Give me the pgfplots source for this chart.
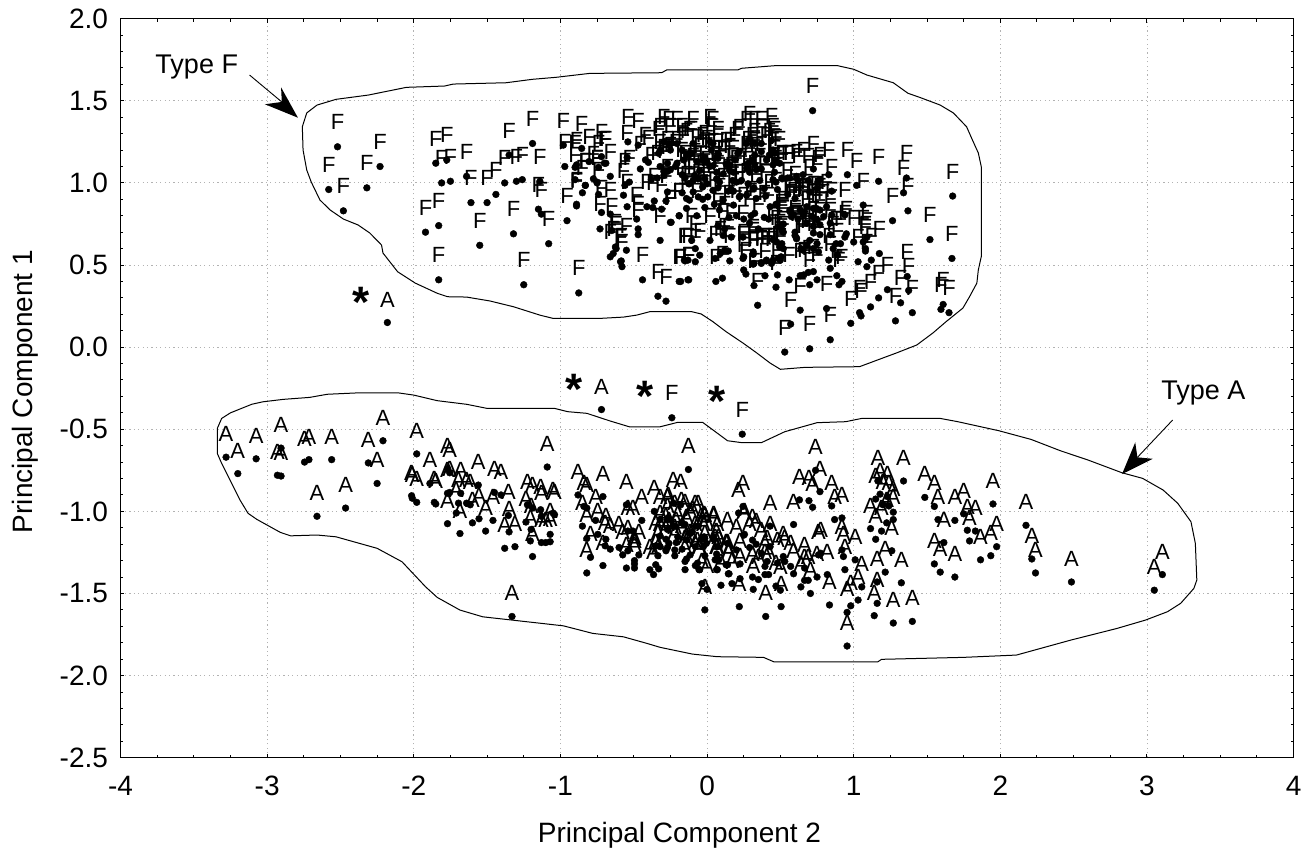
\documentclass[border=0pt]{standalone}
\usepackage{pgfplots}
\pgfplotsset{compat=1.18}
\usepackage{fontspec}
\setmainfont{Liberation Sans}
\newcommand{\tickf}{\fontsize{28}{30}\selectfont}
\newcommand{\typef}{\fontsize{27}{30}\selectfont}
\newcommand{\letf}{\fontsize{22}{24}\selectfont}
\newcommand{\starf}{\fontsize{44}{44}\selectfont\bfseries}
\begin{document}
\begin{tikzpicture}[x=1pt,y=1pt]
\path[use as bounding box] (0,0) rectangle (1315,854);
\begin{axis}[
  at={(120.5pt,96.3pt)},anchor=south west,
  scale only axis,width=1173.2pt,height=739pt,
  xmin=-4,xmax=4,ymin=-2.5,ymax=2,
  xtick={-4,-3,-2,-1,0,1,2,3,4},
  xticklabels={-4,-3,-2,-1,0,1,2,3,4},
  ytick={-2.5,-2,-1.5,-1,-0.5,0,0.5,1,1.5,2},
  yticklabels={-2.5,-2.0,-1.5,-1.0,-0.5,0.0,0.5,1.0,1.5,2.0},
  minor x tick num=3,minor y tick num=4,
  tick align=inside,tick pos=both,
  major tick length=4pt,minor tick length=3pt,
  every tick/.style={black,line width=1pt},
  axis line style={line width=1.5pt,black},
  grid=major,
  major grid style={gray!60,line width=0.9pt,dash pattern=on 1.2pt off 3.2pt},
  tick label style={font=\tickf},
  xticklabel style={yshift=-15pt},
  yticklabel style={xshift=-9pt},
  xlabel={Principal Component 2},ylabel={Principal Component 1},
  every axis x label/.style={at={(axis description cs:0.4765,0)},yshift=-78pt,anchor=center,font=\tickf},
  every axis y label/.style={at={(axis description cs:0,0.4955)},xshift=-95pt,anchor=center,rotate=90,font=\tickf},
  clip=false,
]
% Type F contour
\addplot[black,line width=1pt,sharp plot] coordinates {
(-2.76,1.342)(-2.73,1.426)(-2.66,1.474)(-2.53,1.509)(-2.31,1.535)(-2.05,1.582)(-1.79,1.590)(-1.73,1.602)(-1.37,1.610)(-1.19,1.631)(-1.03,1.643)(-.80,1.667)(-.31,1.671)(-.275,1.688)(.21,1.688)(.235,1.698)(.465,1.714)(.89,1.714)(1.00,1.692)(1.09,1.657)(1.27,1.610)(1.37,1.546)(1.45,1.521)(1.59,1.474)(1.68,1.426)(1.77,1.342)(1.81,1.261)(1.85,1.182)(1.87,1.099)(1.87,.551)(1.85,.470)(1.84,.390)(1.79,.307)(1.745,.238)(1.63,.155)(1.54,.086)(1.43,.013)(1.29,-.036)(1.16,-.079)(1.04,-.119)(.67,-.123)(.50,-.135)(.43,-.097)(.34,-.036)(.245,.025)(.13,.094)(.04,.155)(-.04,.202)(-.105,.216)(-.39,.216)(-.48,.195)(-.57,.183)(-.73,.175)(-1.05,.175)(-1.14,.195)(-1.32,.246)(-1.48,.281)(-1.64,.305)(-1.77,.307)(-1.84,.328)(-1.99,.390)(-2.11,.459)(-2.21,.573)(-2.22,.622)(-2.30,.695)(-2.38,.744)(-2.48,.780)(-2.57,.835)(-2.64,.896)(-2.70,1.007)(-2.73,1.079)(-2.755,1.200)(-2.76,1.342)};
% Type A contour
\addplot[black,line width=1pt,sharp plot] coordinates {
(-3.34,-.495)(-3.31,-.434)(-3.25,-.400)(-3.105,-.348)(-3.03,-.333)(-2.89,-.318)(-2.71,-.306)(-2.59,-.287)(-2.37,-.278)(-2.11,-.278)(-2.00,-.292)(-1.84,-.326)(-1.64,-.348)(-1.50,-.373)(-1.04,-.373)(-.95,-.393)(-.82,-.403)(-.66,-.450)(-.53,-.485)(-.32,-.485)(-.20,-.458)(-.03,-.458)(.14,-.570)(.24,-.582)(.37,-.582)(.53,-.515)(.75,-.460)(.945,-.454)(1.055,-.434)(1.59,-.434)(1.71,-.454)(1.99,-.509)(2.21,-.562)(2.41,-.631)(2.60,-.688)(2.83,-.765)(2.97,-.799)(3.11,-.870)(3.21,-.951)(3.30,-1.063)(3.33,-1.195)(3.34,-1.418)(3.32,-1.469)(3.23,-1.560)(3.14,-1.611)(2.99,-1.662)(2.795,-1.713)(2.48,-1.784)(2.11,-1.875)(1.75,-1.889)(1.19,-1.901)(1.165,-1.916)(.455,-1.916)(.385,-1.889)(.07,-1.885)(-.10,-1.869)(-.32,-1.828)(-.41,-1.804)(-.57,-1.764)(-.78,-1.743)(-.98,-1.697)(-1.23,-1.672)(-1.53,-1.642)(-1.685,-1.601)(-1.84,-1.524)(-1.92,-1.459)(-2.08,-1.307)(-2.25,-1.225)(-2.53,-1.155)(-2.66,-1.144)(-2.84,-1.149)(-2.91,-1.128)(-3.07,-1.049)(-3.13,-1.012)(-3.185,-.931)(-3.31,-.708)(-3.34,-.647)(-3.34,-.495)};
% F points
\addplot[only marks,mark=*,mark size=3.4pt,mark options={fill=black,draw=black},
  nodes near coords={F},
  every node near coord/.style={anchor=base,yshift=17pt,inner sep=0pt,font=\letf,text=black}]
coordinates {
(-2.52,1.22)(-2.23,1.10)(-2.58,.96)(-2.32,.97)(-2.48,.83)(-1.85,1.12)(-1.775,1.14)(-1.81,1.00)(-1.75,1.01)(-1.64,1.04)(-1.61,.88)(-1.50,.88)(-1.44,.93)(-1.38,1.00)(-1.30,1.01)(-1.26,1.02)(-1.35,1.17)(-1.19,1.24)(-1.14,1.01)(-1.15,.84)(-1.13,.81)(-1.08,.63)(-1.32,.69)(-1.55,.62)(-1.83,.74)(-1.92,.70)(-1.83,.41)(-1.25,.38)(-.875,.33)(-.955,.77)(-.89,.86)(-.85,.94)(-.83,.985)(-.90,1.02)(-.97,1.10)(-.98,1.23)(-.855,1.21)(-.805,1.13)(-.89,1.11)(-.90,1.095)(-.74,1.095)(-.70,1.12)(-.775,1.025)(-.75,1.00)(-.74,.93)(-.72,.82)(-.66,1.04)(-.66,.81)(-.73,.72)(-.65,.71)(-.62,.60)(-.64,.57)(-.66,.55)(-.59,.52)
(-.72,1.16)(-.69,1.12)(-.75,1.005)(-.83,.985)(-.89,.87)(-.47,.72)(-.47,.685)(-.48,.78)(-.545,.855)(-.57,.925)(-.56,.985)(-.53,1.005)(-.41,.855)(-.37,.85)(-.36,.89)(-.31,.84)(-.28,.89)(-.27,.945)(-.19,.80)(-.245,.76)(-.32,.65)(-.14,.905)(-.14,.845)(-.55,.59)(-.625,.61)(-.585,.525)(-.58,.49)(-.44,.41)(-.335,.31)(-.28,.28)(-.18,.40)(-.125,.41)(-.15,.525)(-.54,1.25)(-.47,1.23)(-.545,1.155)(-.42,1.14)(-.40,1.125)(-.455,1.085)(-.32,1.20)(-.295,1.25)(-.26,1.24)(-.33,1.18)(-.205,1.12)(-.27,1.12)(-.295,1.045)(-.27,1.07)(-.38,1.02)(-.17,1.05)(-.15,1.03)(-.17,.94)(-.125,.995)
(.72,1.44)(.957,1.05)(1.02,.985)(1.17,1.01)(1.36,1.03)(1.34,.94)(1.37,.83)(1.265,.77)(1.065,.865)(1.52,.655)(1.675,.92)(1.67,.54)(1.175,.57)(1.08,.60)(1.08,.585)(1.065,.64)(1.09,.67)(1.00,.64)(.95,.69)(.94,.67)(.91,.63)(.88,.63)(.86,.60)(.89,.56)(.83,.53)(.84,.48)(1.03,.52)(1.09,.49)(1.12,.53)(.885,.435)(.92,.40)(.90,.38)(.75,.41)(.725,.46)(.69,.455)(.66,.44)(.635,.435)(.70,.38)(.56,.41)(.48,.44)(.395,.435)(.32,.375)(.47,.365)(.345,.255)(.635,.225)(.815,.235)(1.04,.21)(1.05,.19)(.98,.145)(1.115,.245)(1.17,.30)(1.23,.35)(1.375,.345)(1.365,.43)(1.32,.27)(1.40,.21)(1.285,.16)(1.61,.26)(1.595,.23)(1.65,.21)(.84,.045)(.70,-.01)(.53,-.03)(.57,.14)(.25,.47)(.265,.445)(.155,.525)(.12,.59)(.145,.585)(.09,.57)(.055,.54)(.06,.40)(.105,.42)(-.05,.56)(-.08,.52)(-.08,.60)(-.13,.53)(-.155,.53)(-.19,.40)(-.13,.41)(-.25,.76)(-.19,.80)
(.245,.54)(.315,.565)(.32,.51)(.37,.51)(.405,.525)(.44,.51)(.485,.54)(.505,.55)(.02,.65)(-.105,.65)(.245,.67)(.165,.67)(.11,.68)(.12,.72)(.075,.74)(.29,.755)(.39,.79)(.43,.855)(.325,.815)(.30,.80)(.18,.865)(.11,.895)(.085,.835)(-.015,.85)(-.07,.80)(.22,.915)(.27,.925)(.335,.905)(.005,.915)(.04,.955)(.075,.97)(.145,.95)(.165,.96)(.235,1.015)(.28,.995)(.36,1.015)(.45,1.02)(.39,.965)(.48,.96)(.515,1.025)(.55,1.03)(.62,1.015)(.69,1.015)(.755,1.005)(.60,.905)(.565,.835)(.575,.795)(.62,.78)(.68,.855)(.665,.825)(.745,.845)(.505,.735)(.52,.70)(.60,.68)(.61,.66)(.64,.60)(.495,.61)(.52,.60)
(-.12,.995)(-.095,1.015)(-.06,1.025)(0,.995)(.065,1.025)(.13,1.115)(.155,1.075)(.18,1.065)(.04,1.105)(0,1.125)(-.015,1.155)(.02,1.25)(.03,1.20)(.04,1.24)(.075,1.18)(.075,1.15)(-.07,1.13)(-.105,1.18)(.21,1.18)(.325,1.17)(.31,1.14)(.27,1.09)(.29,1.065)(.335,1.08)(.37,1.24)(.44,1.26)(.46,1.18)(.47,1.13)(.425,1.17)(.45,1.11)
(.635,.835)(.725,.845)(.77,.835)(.815,.855)(.565,.825)(.59,.805)(.655,.805)(.715,.795)(.75,.775)(.795,.795)(.85,.805)(.94,.805)(.68,.755)(.725,.735)(.77,.745)(.84,.755)(.725,.695)(.77,.685)(.84,.685)(.60,.70)(.61,.665)(.70,.65)(.75,.63)(.68,.62)(.725,.60)(.76,.58)(.655,.59)(.51,1.03)(.565,1.03)(.61,1.04)(.655,1.05)(.77,1.02)(.83,1.05)(.85,.95)(.75,.965)(.70,.945)(.725,1.085)(.475,.64)(.51,.63)(.50,.53)(.45,.53)(.405,.53)(.37,.515)(.315,.505)(.315,.58)(.25,.55)(.45,.655)(.52,.75)(.51,.715)
(-.12,1.18)(-.095,1.24)(-.03,1.14)(.02,1.10)(.065,1.065)(.11,1.055)(.155,1.11)(.19,1.14)(.22,1.19)(.27,1.24)(.29,1.27)(.325,1.24)(.37,1.19)(.405,1.14)(.45,1.20)(.495,1.12)(-.05,1.075)(-.085,1.045)(-.015,1.025)(.085,1.005)(.175,1.015)(.28,1.12)(.325,1.11)(.37,1.085)(.46,1.065)(.47,1.005)(.20,1.005)(-.095,.945)(-.06,.915)(-.12,.895)(-.03,.975)
(-.34,1.03)(-.215,1.10)(-.16,1.14)(-.25,1.20)(-.205,1.24)(-.17,1.20)(-.14,1.17)(-.32,1.10)(-.295,1.07)(-.25,1.08)
(.20,.80)(.25,.78)(.15,.79)(.35,.72)(.42,.78)(.47,.87)(.55,.93)(.40,.92)(.32,.97)(.18,.95)(.05,.87)(-.03,.90)(.225,.92)
(-.24,-.43)(.24,-.53)};
% A points
\addplot[only marks,mark=*,mark size=3.4pt,mark options={fill=black,draw=black},
  nodes near coords={A},
  every node near coord/.style={anchor=base,yshift=15.5pt,inner sep=0pt,font=\letf,text=black}]
coordinates {
(-2.18,.15)(-.72,-.38)
(-3.28,-.67)(-3.20,-.77)(-3.075,-.68)(-2.93,-.78)(-2.905,-.785)(-2.905,-.615)(-2.745,-.70)(-2.715,-.685)(-2.56,-.685)(-2.66,-1.03)(-2.465,-.98)(-2.31,-.705)(-2.25,-.83)(-2.21,-.57)(-1.98,-.65)(-2.015,-.905)(-2.01,-.92)(-1.98,-.945)(-1.86,-.945)(-1.85,-.955)(-1.89,-.83)(-1.77,-.74)(-1.755,-.765)(-1.77,-.89)(-1.755,-.885)(-1.68,-.89)(-1.77,-1.075)(-1.685,-1.135)(-1.695,-.95)(-1.71,-1.01)(-1.64,-.95)(-1.615,-.96)(-1.56,-.84)(-1.60,-1.07)(-1.555,-1.045)(-1.51,-1.12)(-1.46,-1.055)(-1.45,-.885)(-1.405,-.90)(-1.355,-1.025)(-1.35,-1.125)(-1.38,-1.225)(-1.31,-1.215)(-1.235,-1.065)(-1.225,-.96)(-1.19,-.98)(-1.20,-1.11)(-1.205,-1.18)(-1.19,-1.275)(-1.135,-.99)(-1.13,-1.03)(-1.05,-1.01)(-1.04,-1.02)(-1.09,-.73)(-1.13,-1.19)(-1.10,-1.19)(-1.07,-1.185)(-1.07,-1.14)(-1.33,-1.64)
(-.88,-.90)(-.85,-1.09)(-.82,-.98)(-.84,-.97)(-.71,-.91)(-.76,-1.055)(-.745,-1.14)(-.82,-1.165)(-.795,-1.28)(-.82,-1.375)(-.71,-1.33)(-.69,-1.17)(-.695,-1.21)(-.66,-1.23)(-.55,-.96)(-.445,-1.055)(-.36,-1.0)(-.60,-1.22)(-.575,-1.265)(-.54,-1.24)(-.505,-1.12)(-.54,-1.12)(-.55,-1.345)(-.495,-1.30)(-.495,-1.32)(-.495,-1.345)(-.465,-1.265)(-.39,-1.355)(-.33,-1.35)(-.365,-1.385)(-.35,-1.325)(-.335,-1.27)(-.28,-1.24)(-.27,-1.22)(-.22,-1.27)(-.21,-1.19)(-.35,-1.21)(-.28,-1.17)(-.32,-1.15)
(-.127,-.745)(-.18,-.96)(-.15,-1.355)(-.115,-1.265)(-.14,-1.29)(-.17,-1.23)(-.08,-1.33)(-.05,-1.355)(.065,-1.355)(.14,-1.325)(-.015,-1.27)(.065,-1.26)(.08,-1.295)(.145,-1.38)(.095,-1.45)(-.035,-1.44)(0,-1.475)(-.015,-1.60)(.22,-1.58)(.17,-1.44)(.225,-1.41)(.31,-1.40)(.35,-1.415)(.315,-1.475)(.395,-1.385)(.42,-1.385)(.40,-1.64)(.395,-1.335)(.225,-1.32)(.31,-1.175)(.335,-1.2)(.29,-1.22)(.25,-1.145)(.215,-1.01)(.245,-.97)(-.15,-1.08)(-.06,-1.09)(-.015,-1.165)(-.025,-1.215)(-.115,-1.135)(-.22,-1.09)(-.265,-1.04)(-.32,-1.05)(-.23,-.95)
(.74,-.75)(.77,-.88)(.63,-.93)(.695,-.935)(.72,-.975)(.85,-.967)(.59,-1.08)(.87,-1.05)(.92,-1.04)(.43,-1.09)(.255,-1.14)(.53,-1.305)(.57,-1.335)(.59,-1.38)(.505,-1.58)(.47,-1.455)(.50,-1.48)(.64,-1.46)(.665,-1.42)(.69,-1.42)(.705,-1.50)(.75,-1.40)(.665,-1.345)(.82,-1.385)(.775,-1.255)(.76,-1.265)(.93,-1.275)(.94,-1.355)(.92,-1.235)(1.01,-1.295)(1.055,-1.46)(1.03,-1.54)(.98,-1.575)(.835,-1.57)(.955,-1.615)(.955,-1.82)(1.16,-1.43)(1.16,-1.56)(1.14,-1.635)(1.27,-1.68)(1.40,-1.67)(1.325,-1.435)(1.215,-1.37)(1.26,-1.24)(1.15,-1.17)(1.115,-1.105)(1.19,-1.12)(1.225,-1.07)(1.27,-1.05)(1.27,-1.005)(1.24,-.967)(1.20,-.96)(1.15,-.925)(1.18,-.895)(1.23,-.91)(1.165,-.815)(1.34,-.815)(1.485,-.915)(1.55,-.97)(1.575,-1.05)(1.69,-1.055)(1.75,-1.015)(1.95,-.955)(1.775,-1.115)(1.83,-1.12)(1.79,-1.18)(1.615,-1.19)(1.55,-1.32)(1.59,-1.37)(1.69,-1.40)(1.865,-1.295)(1.935,-1.27)(1.975,-1.215)(2.175,-1.085)(2.215,-1.29)(2.24,-1.375)(2.485,-1.43)(3.05,-1.48)(3.105,-1.385)
(-.055,-1.355)(.07,-1.355)(.15,-1.38)(-.04,-1.17)(.045,-1.17)
(-.27,-1.11)(-.20,-1.155)(-.14,-1.175)(-.08,-1.215)(-.005,-1.195)(.07,-1.215)(.14,-1.195)(.20,-1.235)(-.22,-1.235)(-.15,-1.305)(-.065,-1.315)(.055,-1.295)(.13,-1.325)(-.32,-1.215)(-.26,-1.195)(-.10,-1.125)(-.02,-1.155)(.045,-1.155)(-.175,-1.07)(-.08,-1.09)(-.27,-1.05)(.37,-1.255)(.41,-1.305)(.48,-1.315)(.52,-1.275)(.43,-1.215)};
% annotations
\node[font=\typef,inner sep=0pt] at (axis cs:-3.48,1.706) {Type F};
\node[font=\typef,inner sep=0pt] at (axis cs:3.385,-.281) {Type A};
\draw[black,line width=0.9pt] (axis cs:-3.12,1.657)--(axis cs:-2.90,1.493);
\fill[black] (axis cs:-2.79,1.397)--(axis cs:-3.015,1.479)--(axis cs:-2.90,1.493)--(axis cs:-2.905,1.582)--cycle;
\draw[black,line width=0.9pt] (axis cs:3.175,-.444)--(axis cs:2.935,-.671);
\fill[black] (axis cs:2.83,-.773)--(axis cs:2.92,-.58)--(axis cs:2.935,-.671)--(axis cs:3.04,-.68)--cycle;
\node[font=\starf,inner sep=0pt,yshift=-5.5pt] at (axis cs:-2.36,.307) {*};
\node[font=\starf,inner sep=0pt,yshift=-5.5pt] at (axis cs:-.91,-.225) {*};
\node[font=\starf,inner sep=0pt,yshift=-5.5pt] at (axis cs:-.42,-.265) {*};
\node[font=\starf,inner sep=0pt,yshift=-5.5pt] at (axis cs:.067,-.298) {*};
\end{axis}
\end{tikzpicture}
\end{document}
